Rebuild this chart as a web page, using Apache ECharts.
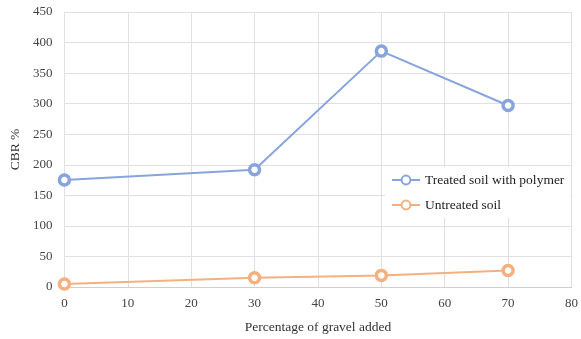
<!DOCTYPE html>
<html><head><meta charset="utf-8">
<script src="https://cdn.jsdelivr.net/npm/echarts@6/dist/echarts.min.js"></script>
<style>html,body{margin:0;padding:0;background:#fff}#c{width:581px;height:339px}</style>
</head><body><div id="c"></div>
<script>
const gravel = [0, 30, 50, 70];
const treated = [175, 192, 386, 297];
const untreated = [5, 15, 19, 27];
const seriesNames = ['Treated soil with polymer', 'Untreated soil'];
const xTitle = 'Percentage of gravel added';
const yTitle = 'CBR %';

const font = 'Liberation Serif, DejaVu Serif, serif';
const chart = echarts.init(document.getElementById('c'), null, {renderer: 'canvas'});
function mk(xs, ys) { return xs.map((x, i) => [x, ys[i]]); }
chart.setOption({
  animation: false,
  backgroundColor: '#fff',
  grid: {left: 61, right: 6, top: 12, bottom: 52, containLabel: false},
  xAxis: {
    type: 'value', min: 0, max: 80, interval: 10,
    name: xTitle, nameLocation: 'middle', nameGap: 33,
    nameTextStyle: {fontFamily: font, fontSize: 13.5, color: '#333'},
    axisLine: {show: true, lineStyle: {color: '#cfcfcf', width: 1}},
    axisTick: {show: false},
    axisLabel: {fontFamily: font, fontSize: 13, color: '#444', margin: 10},
    splitLine: {show: true, lineStyle: {color: '#e0e0e0', width: 1}}
  },
  yAxis: {
    type: 'value', min: 0, max: 450, interval: 50,
    name: yTitle, nameLocation: 'middle', nameGap: 42,
    nameTextStyle: {fontFamily: font, fontSize: 13.5, color: '#333'},
    axisLine: {show: false},
    axisTick: {show: false},
    axisLabel: {fontFamily: font, fontSize: 13, color: '#444', margin: 12},
    splitLine: {show: true, lineStyle: {color: '#e0e0e0', width: 1}}
  },
  legend: {
    orient: 'vertical', left: 385, top: 167,
    backgroundColor: '#fff', padding: [6, 6, 6, 6],
    itemGap: 11, itemWidth: 28, itemHeight: 11,
    textStyle: {fontFamily: font, fontSize: 13.5, color: '#222'},
    data: seriesNames
  },
  series: [
    {
      name: seriesNames[0], type: 'line', data: mk(gravel, treated),
      symbol: 'circle', symbolSize: 10,
      lineStyle: {color: '#87a4dc', width: 2},
      itemStyle: {color: '#fff', borderColor: '#87a4dc', borderWidth: 3.5}
    },
    {
      name: seriesNames[1], type: 'line', data: mk(gravel, untreated),
      symbol: 'circle', symbolSize: 10,
      lineStyle: {color: '#f5b07f', width: 2},
      itemStyle: {color: '#fff', borderColor: '#f5b07f', borderWidth: 3.5}
    }
  ]
});
</script></body></html>
